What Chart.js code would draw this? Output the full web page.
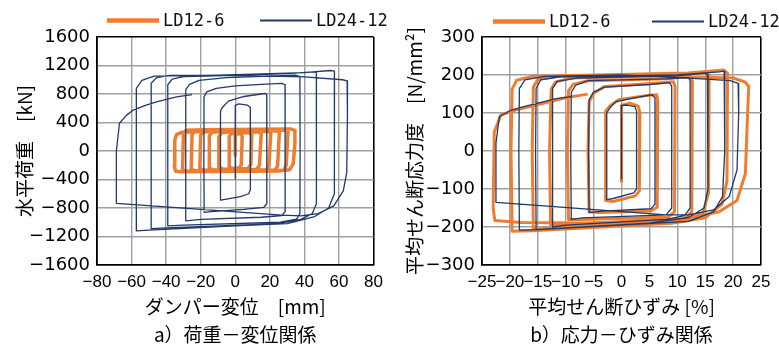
<!DOCTYPE html>
<html>
<head>
<meta charset="utf-8">
<script src="https://cdn.jsdelivr.net/npm/chart.js@4.4.1/dist/chart.umd.min.js"></script>
<style>
  body { margin: 0; background: #fff; }
  canvas { position: absolute; top: 0; }
  #graficoCarga { left: 0; }
  #graficoTensao { left: 390px; }
</style>
</head>
<body>
<canvas id="graficoCarga" width="390" height="345"></canvas>
<canvas id="graficoTensao" width="389" height="345"></canvas>
<script>
// nomes das series
const seriesNames = ['LD12-6', 'LD24-12'];

// ticks dos eixos
const dispTicks = [-80, -60, -40, -20, 0, 20, 40, 60, 80];
const loadTicks = [-1600, -1200, -800, -400, 0, 400, 800, 1200, 1600];
const strainTicks = [-25, -20, -15, -10, -5, 0, 5, 10, 15, 20, 25];
const stressTicks = [-300, -200, -100, 0, 100, 200, 300];

// a) carga x deslocamento [mm, kN]
const ld12DispLoad = [
  [0,-60],[0,220],[1.5,245],[3.5,235],[4,200],[3.5,-190],[2.5,-235],[-2,-245],[-3.5,-220],[-3.5,200],[-2.5,240],
  [1,255],[8,255],[9.5,230],[9,-190],[7.5,-245],[-7,-255],[-9.5,-230],[-9.5,200],[-8,255],
  [-4,265],[13.5,265],[15,240],[14,-200],[12.5,-255],[-13,-265],[-15,-240],[-15,210],[-13.5,262],
  [-8,272],[19,275],[20.5,250],[19.5,-205],[18,-262],[-18,-270],[-20.5,-245],[-20,220],[-18.5,270],
  [-12,280],[24,285],[25.5,260],[24.5,-210],[23,-268],[-23,-278],[-25.5,-255],[-25,230],[-23.5,278],
  [-15,288],[29,295],[30.5,270],[29.5,-200],[28,-270],[-28,-285],[-30.5,-262],[-30,235],[-28.5,290],
  [-18,298],[32,310],[34.5,290],[34.5,100],[33.5,-180],[31.5,-262],[25,-280],[-30,-292],[-34.5,-285],
  [-35.3,-200],[-35,150],[-34,230],[-31,262],[-20,275],[-9,270]
];
const ld24DispLoad = [
  [0,-400],[0,640],[2,662],[7,645],[8.7,610],[8.8,300],[8.7,-540],[7.8,-600],[3,-640],[-5,-675],[-8.5,-690],[-8.6,-300],[-8.5,560],[-7.5,610],
  [-4,700],[5,765],[15,800],[17.6,810],[18.2,780],[18.3,0],[18.2,-740],[16.5,-790],[5,-820],[-14,-850],[-18,-860],[-18.2,0],[-18.1,760],[-16.5,830],[-11,880],
  [0,915],[15,935],[27,950],[28.8,930],[28.9,0],[28.8,-850],[27,-905],[15,-930],[-20,-960],[-28.6,-980],[-28.7,0],[-28.6,860],[-26.5,935],[-21,990],
  [-5,1030],[20,1050],[35,1065],[37.4,1045],[37.5,0],[37.4,-880],[35.5,-955],[26,-1000],[-30,-1040],[-39,-1050],[-39.1,0],[-39,930],[-36.5,1010],[-30,1045],
  [0,1060],[30,1085],[45,1110],[46.9,1100],[47,0],[46.9,-740],[44.5,-880],[38,-960],[25,-1020],[-40,-1080],[-48.6,-1090],[-48.7,0],[-48.6,950],[-45.5,1030],[-38,1060],
  [-10,1065],[40,1100],[55,1130],[57.4,1120],[57.5,300],[57.2,-600],[54,-800],[46,-920],[30,-1020],[0,-1050],[-50,-1110],[-57.2,-1120],[-57.3,0],[-57.2,880],[-54,990],[-47,1050],
  [-10,1065],[40,1040],[62,1000],[64.7,985],[64.9,500],[64.5,-300],[62.5,-560],[57,-770],[48,-880],[38,-910],[27,-900],
  [-68.7,-735],[-68.8,0],[-67,390],[-63,500],[-59,575],[-52,640],[-45.6,690],[-34,760],[-25,790]
];

// b) tensao x deformacao [%, N/mm2]
const ld12StrainStress = [
  [0,-80],[0,120],[1.5,126],[3,118],[3.3,100],[3.2,-105],[2.5,-118],[-1.5,-133],[-2.8,-130],[-2.9,0],[-2.8,105],[-2,120],
  [-0.5,135],[5,147],[6.3,148],[6.5,130],[6.4,-148],[5.2,-158],[-4,-162],[-5.8,-160],[-6,0],[-5.8,130],[-5,152],
  [-3,170],[6,178],[9.3,182],[9.6,170],[9.5,-160],[8.3,-174],[-7,-180],[-9.5,-180],[-9.7,0],[-9.5,158],[-8.7,175],
  [-6,185],[8,190],[12.3,196],[12.7,185],[12.6,-160],[11.3,-178],[-10,-193],[-12.7,-196],[-12.9,0],[-12.6,163],[-11.8,182],
  [-9,192],[10,200],[15,207],[15.7,200],[15.6,-110],[14.6,-162],[11,-183],[-13,-203],[-15.8,-206],[-16,0],[-15.8,168],[-15,188],
  [-11,198],[12,205],[18.3,213],[19,205],[18.9,-80],[18,-140],[15,-176],[9,-190],[-16,-210],[-19.6,-211],[-19.8,0],[-19.6,163],[-18.8,186],[-16,196],
  [0,200],[12,195],[20,192],[22.1,182],[22.8,170],[22.6,100],[22.2,-60],[20.7,-130],[17.5,-160],[10,-182],[0,-190],[-18,-188],[-22.7,-183],
  [-23,-150],[-22.8,50],[-21.6,95],[-19,108],[-15,122],[-10,140],[-6.3,149]
];
const ld24StrainStress = [
  [0,-75],[0,120],[1,121],[2.4,117],[2.7,105],[2.7,-100],[2.2,-110],[-1.5,-125],[-2.6,-128],[-2.7,0],[-2.6,100],[-2,115],
  [-1,130],[3,142],[5.5,148],[6,140],[6,-140],[5.3,-152],[-3.5,-158],[-5.8,-162],[-5.9,0],[-5.8,135],[-5,155],
  [-3,168],[5,175],[8.6,180],[9,170],[9,-150],[8,-168],[-7,-176],[-9,-180],[-9.1,0],[-9,155],[-8.2,173],
  [-6,185],[8,190],[12,193],[12.3,185],[12.3,-150],[11.3,-170],[8,-180],[-10,-195],[-12.3,-200],[-12.4,0],[-12.3,165],[-11.5,183],
  [-8,192],[10,198],[15,205],[15.4,200],[15.5,-100],[14.8,-150],[12,-175],[5,-190],[-13,-205],[-15.3,-207],[-15.4,0],[-15.3,165],[-14.5,187],
  [-11,195],[10,200],[17.5,208],[18.4,210],[18.5,0],[18.1,-120],[16.5,-160],[12,-185],[-15,-207],[-18.3,-208],[-18.4,0],[-18.3,165],[-17.3,187],[-14,196],
  [0,200],[12,192],[19.5,185],[20.9,178],[21,100],[20.7,-50],[19.3,-120],[16.5,-155],[12,-168],[8,-168],
  [-22.5,-135],[-22.5,20],[-21.9,90],[-20,106],[-17.7,116],[-11.7,138],[-9,143]
];

const laranja = '#ED7D31';
const azul = '#203A6B';
const jpFont = '"Noto Sans CJK JP", "Noto Sans", sans-serif';
const numFont = '"DejaVu Sans", sans-serif';
const xNumFont = '"Liberation Sans", sans-serif';

const toXY = arr => arr.map(p => ({ x: p[0], y: p[1] }));
const fmtNum = v => String(v).replace('-', '\u2212');

// legenda com linha
const lineLegend = {
  id: 'lineLegend',
  afterDraw(chart, args, opts) {
    const ctx = chart.ctx;
    ctx.save();
    ctx.font = '17px "DejaVu Sans Mono", monospace';
    ctx.textBaseline = 'middle';
    chart.data.datasets.forEach((ds, i) => {
      const x = opts.xs[i];
      ctx.strokeStyle = ds.borderColor;
      ctx.lineWidth = opts.widths[i];
      ctx.beginPath();
      ctx.moveTo(x, opts.y);
      ctx.lineTo(x + 52, opts.y);
      ctx.stroke();
      ctx.fillStyle = '#111';
      ctx.fillText(ds.label, x + 56, opts.y + 1);
    });
    ctx.restore();
  }
};

const edgeColor = c => (c.index === 0 || c.index === c.scale.ticks.length - 1) ? '#000' : '#a0a0a0';
const edgeWidth = c => (c.index === 0 || c.index === c.scale.ticks.length - 1) ? 1.6 : 1.4;

function montaGrafico(id, cfg) {
  const ctx = document.getElementById(id).getContext('2d');
  return new Chart(ctx, {
    type: 'scatter',
    data: {
      datasets: [
        { label: seriesNames[0], data: toXY(cfg.orange), borderColor: laranja, backgroundColor: laranja,
          borderWidth: cfg.orangeWidth, showLine: true, pointRadius: 0, order: 1, borderJoinStyle: 'round', borderCapStyle: 'round' },
        { label: seriesNames[1], data: toXY(cfg.blue), borderColor: azul, backgroundColor: azul,
          borderWidth: 1.3, showLine: true, pointRadius: 0, order: 0, borderJoinStyle: 'round' }
      ]
    },
    options: {
      responsive: false,
      animation: false,
      layout: { padding: { left: 0, right: cfg.padRight, top: 37, bottom: 0 } },
      plugins: {
        legend: { display: false },
        tooltip: { enabled: false },
        lineLegend: { xs: cfg.legendXs, y: cfg.legendY, widths: [4.5, 2] }
      },
      scales: {
        x: {
          type: 'linear',
          min: cfg.xTicks[0],
          max: cfg.xTicks[cfg.xTicks.length - 1],
          afterBuildTicks: s => { s.ticks = cfg.xTicks.map(v => ({ value: v })); },
          afterFit: s => { s.height = 80; },
          ticks: { autoSkip: false, maxRotation: 0, padding: 7, color: '#000',
                   font: { family: xNumFont, size: 17 }, callback: fmtNum },
          grid: { drawTicks: false, color: edgeColor, lineWidth: edgeWidth },
          border: { display: true, color: '#000', width: 1.6 },
          title: { display: true, text: cfg.xTitle, color: '#000',
                   font: { family: jpFont, size: 19, lineHeight: '28px' }, padding: { top: 0, bottom: -4 } }
        },
        y: {
          type: 'linear',
          min: cfg.yTicks[0],
          max: cfg.yTicks[cfg.yTicks.length - 1],
          afterBuildTicks: s => { s.ticks = cfg.yTicks.map(v => ({ value: v })); },
          afterFit: s => { s.width = cfg.yWidth; },
          ticks: { padding: 7, color: '#000', font: { family: numFont, size: 18 }, callback: fmtNum },
          grid: { drawTicks: false, color: edgeColor, lineWidth: edgeWidth },
          border: { display: true, color: '#000', width: 1.6 },
          title: { display: true, text: cfg.yTitle, color: '#000',
                   font: { family: jpFont, size: 19 }, padding: { top: 13, bottom: 0 } }
        }
      }
    },
    plugins: [lineLegend]
  });
}

document.addEventListener('DOMContentLoaded', () => {
  montaGrafico('graficoCarga', {
    orange: ld12DispLoad, blue: ld24DispLoad, orangeWidth: 3.5,
    xTicks: dispTicks, yTicks: loadTicks,
    xTitle: ['ダンパー変位　[mm]', 'a）荷重－変位関係'],
    yTitle: '水平荷重　[kN]',
    yWidth: 97, padRight: 15, legendXs: [107, 260], legendY: 20.5
  });
  montaGrafico('graficoTensao', {
    orange: ld12StrainStress, blue: ld24StrainStress, orangeWidth: 3,
    xTicks: strainTicks, yTicks: stressTicks,
    xTitle: ['平均せん断ひずみ [%]', 'b）応力－ひずみ関係'],
    yTitle: '平均せん断応力度　[N/mm²]',
    yWidth: 92, padRight: 18, legendXs: [103, 262], legendY: 21.5
  });
});
</script>
</body>
</html>
